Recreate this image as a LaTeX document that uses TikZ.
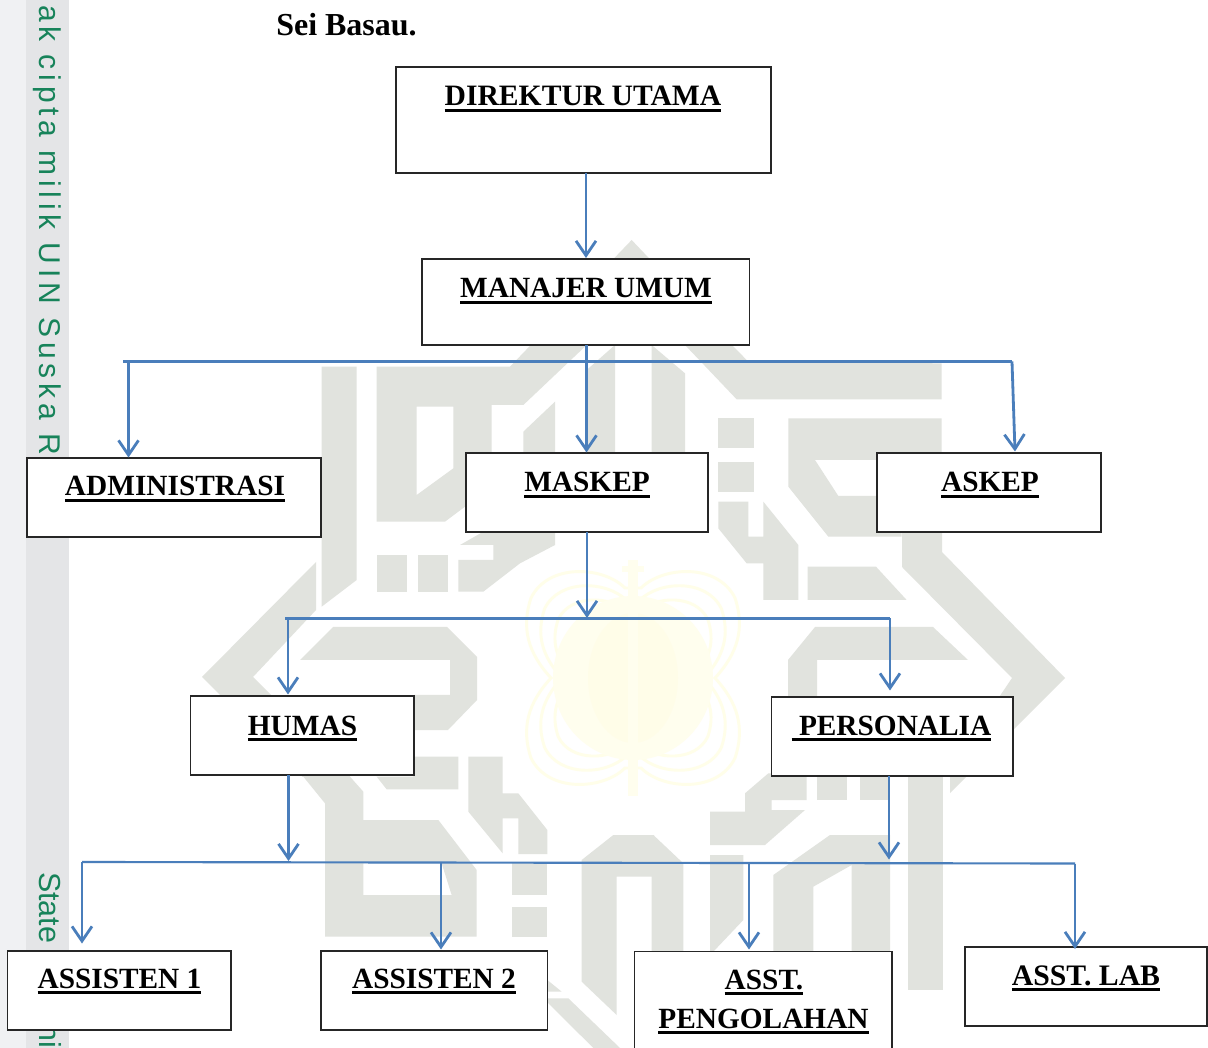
\documentclass[tikz,border=0pt]{standalone}
\usepackage{fontspec}
\setmainfont{Liberation Serif}
\newfontfamily\wmsans[LetterSpace=16]{Liberation Sans}
\newfontfamily\wmplain{Liberation Sans}
\usetikzlibrary{arrows.meta}
\definecolor{wmgray}{HTML}{E1E3DE}
\definecolor{stripa}{HTML}{F0F1F3}
\definecolor{stripb}{HTML}{E4E5E7}
\definecolor{wmgreen}{HTML}{17835A}
\definecolor{conn}{HTML}{4A7EBB}
\definecolor{wingline}{HTML}{FFFEE9}
\definecolor{wingfill}{HTML}{FFFEEE}
\definecolor{wingcore}{HTML}{FFFDE8}
\newcommand{\ulb}[1]{\setbox0=\hbox{#1}\rlap{\rule[-4.3pt]{\wd0}{1.8pt}}\box0}
\newcommand{\boxnode}[5]{\pgfmathsetmacro\bw{(#4-#2)*0.75}\pgfmathsetmacro\bh{(#5-#3)*0.75}\node[orgbox,minimum width=\bw pt,minimum height=\bh pt] (#1) at ({(#2+#4)/2},{(#3+#5)/2}) {};}
\newcommand{\wing}{(8,-90) .. controls (30,-112) and (85,-115) .. (102,-80) .. controls (112,-50) and (105,-25) .. (82,0) .. controls (105,25) and (112,50) .. (102,80) .. controls (85,115) and (30,112) .. (8,90) -- (-8,90) .. controls (-30,112) and (-85,115) .. (-102,80) .. controls (-112,50) and (-105,25) .. (-82,0) .. controls (-105,-25) and (-112,-50) .. (-102,-80) .. controls (-85,-115) and (-30,-112) .. (-8,-90) -- cycle}
\tikzset{
  wm/.style={fill=wmgray,draw=none,even odd rule},
  orgbox/.style={draw=black!85,fill=white,line width=0.95pt,inner sep=0pt,outer sep=0pt,rectangle},
  lbl/.style={font=\fontsize{22pt}{26pt}\bfseries,text=black,inner sep=0pt,anchor=base},
  link/.style={draw=conn,line width=1.6pt},
  arrowlink/.style={draw=conn,line width=2.1pt,-{Straight Barb[length=11pt,width=15pt,line width=2.1pt]}},
  striptext/.style={text=wmgreen,inner sep=0pt,rotate=-90}
}
\begin{document}
\begin{tikzpicture}[x=0.75pt,y=-0.75pt]
\useasboundingbox (0,0) rectangle (1208,1048);
\clip (0,0) rectangle (1208,1048);
\fill[white] (0,0) rectangle (1208,1048);
% watermark: upper left
\begin{scope}[shift={(190,230)},x=0.25pt,y=-0.25pt]
  \fill[wm] (395,410) -- (500,410) -- (500,1050) -- (395,1130) -- cycle;
  \fill[wm] (560,410) -- (960,410) -- (1325,30) -- (1420,130) -- (1190,345) -- (1000,525) -- (905,525) -- (905,770) -- (765,875) -- (560,875) -- cycle
            (680,530) -- (790,530) -- (790,715) -- (680,795) -- cycle;
  \fill[wm] (1275,345) -- (1275,670) -- (1190,670) -- (1190,420) -- cycle;
  \fill[wm] (1000,605) -- (1095,515) -- (1095,670) -- (1000,670) -- cycle;
  \fill[wm] (880,905) -- (1095,905) -- (1095,945) -- (990,1000) -- (880,1085) -- (805,1085) -- (805,990) -- (910,990) -- (910,945) -- (810,945) -- cycle;
  \fill[wm] (560,975) rectangle (650,1085);
  \fill[wm] (685,975) rectangle (775,1085);
\end{scope}
% watermark: upper right
\begin{scope}[shift={(630,230)},x=0.25pt,y=-0.25pt]
  \fill[wm] (0,35) -- (355,395) -- (935,400) -- (935,508) -- (320,508) -- (165,345) -- (0,200) -- cycle;
  \fill[wm] (65,345) -- (165,430) -- (165,670) -- (65,670) -- cycle;
  \fill[wm] (265,565) rectangle (372,655);
  \fill[wm] (265,695) rectangle (372,785);
  \fill[wm] (265,815) -- (355,815) -- (355,920) -- (400,920) -- (400,815) -- (505,945) -- (505,1110) -- (400,1110) -- (400,1000) -- (350,1000) -- (265,895) -- cycle;
  \fill[wm] (475,565) -- (935,565) -- (935,690) -- (555,690) -- (625,798) -- (815,798) -- (815,920) -- (595,920) -- (475,770) -- cycle;
  \fill[wm] (533,1010) -- (738,1010) -- (830,1110) -- (533,1110) -- cycle;
\end{scope}
% watermark: left and right arms (image pixels)
\fill[wm] (316,562) -- (316,610) -- (253,677) -- (303,727) -- (303,777) -- (202,677) -- cycle;
\fill[wm] (300,660) -- (333,627) -- (447,627) -- (477,657) -- (477,700) -- (448,730) -- (414,730) -- (414,695) -- (450,695) -- (450,660) -- cycle;
\fill[wm] (902,530) -- (942,530) -- (942,552) -- (1065,678) -- (950,793) -- (950,770) -- (1012,678) -- (902,567) -- cycle;
\fill[wm] (788,697) -- (788,660) -- (815,627) -- (933,627) -- (968,660) -- (817,660) -- (817,697) -- cycle;
% watermark: lower left
\begin{scope}[shift={(190,630)},x=0.25pt,y=-0.25pt]
  \fill[wm] (250,300) -- (340,440) -- (405,520) -- (405,920) -- (860,920) -- (860,720) -- (745,570) -- (520,570) -- (520,485) -- (480,440) -- (400,300) -- cycle
            (520,700) -- (755,700) -- (785,795) -- (520,795) -- cycle;
  \fill[wm] (670,380) -- (805,380) -- (805,478) -- (590,478) -- (560,440) -- (670,440) -- cycle;
  \fill[wm] (835,380) -- (938,380) -- (938,490) -- (985,490) -- (1072,600) -- (1072,672) -- (985,672) -- (985,565) -- (938,565) -- (938,670) -- (835,545) -- cycle;
  \fill[wm] (965,700) rectangle (1072,795);
  \fill[wm] (965,830) rectangle (1072,920);
  \fill[wm] (1175,1055) -- (1175,690) -- (1270,615) -- (1392,615) -- (1392,740) -- (1280,740) -- (1280,1155) -- cycle;
  \fill[wm] (1072,1050) -- (1115,1085) -- (1072,1085) -- cycle;
  \fill[wm] (1060,1105) -- (1135,1105) -- (1290,1254) -- (1210,1254) -- cycle;
\end{scope}
% watermark: lower right
\begin{scope}[shift={(630,630)},x=0.25pt,y=-0.25pt]
  \fill[wm] (0,615) -- (70,615) -- (160,700) -- (160,965) -- (65,965) -- (65,725) -- (0,725) -- cycle;
  \fill[wm] (430,965) -- (430,735) -- (600,615) -- (780,615) -- (780,965) -- (665,965) -- (665,705) -- (550,770) -- (550,965) -- cycle;
  \fill[wm] (240,545) -- (345,545) -- (345,490) -- (415,430) -- (530,430) -- (530,510) -- (425,510) -- (425,540) -- (525,540) -- (405,645) -- (240,645) -- cycle;
  \fill[wm] (560,430) rectangle (650,510);
  \fill[wm] (690,430) rectangle (778,510);
  \fill[wm] (240,675) -- (340,675) -- (340,870) -- (250,965) -- (240,965) -- cycle;
  \fill[wm] (835,430) -- (940,430) -- (940,1080) -- (835,1080) -- cycle;
\end{scope}
% watermark: central butterfly
\begin{scope}[shift={(633,678)},line width=2.2pt]
  \draw[wingline] \wing;
  \begin{scope}[x=0.65pt,y=-0.65pt]\draw[wingline] \wing;\end{scope}
  \begin{scope}[x=0.55pt,y=-0.55pt]\draw[wingline] \wing;\end{scope}
  \fill[wingfill] (0,0) ellipse [x radius=80,y radius=82];
  \fill[wingcore] (0,0) ellipse [x radius=45,y radius=65];
  \fill[wingfill] (-5,-118) rectangle (5,118);
  \fill[wingfill] (-11,-112) rectangle (11,-106);
\end{scope}
% left strip
\fill[stripa] (0,0) rectangle (26,1048);
\fill[stripb] (26,0) rectangle (68.5,1048);
\node[striptext,anchor=base east,font=\wmsans\fontsize{22.5pt}{26pt}\selectfont] (hakcipta) at (40,455) {ak cipta milik UIN Suska R};
\node[striptext,anchor=base west,font=\wmplain\fontsize{22.8pt}{26pt}\selectfont] (statetext) at (40,872) {State};
\node[striptext,anchor=base west,font=\wmplain\fontsize{22.8pt}{26pt}\selectfont] (nitext) at (40,1024) {ni};
% boxes
\boxnode{dir}{396}{67}{771}{173}
\boxnode{man}{422}{259}{749.5}{345}
\boxnode{adm}{27}{458}{321}{537}
\boxnode{mas}{466}{453}{708}{532}
\boxnode{ask}{877}{453}{1101}{532}
\boxnode{hum}{190.5}{696}{414}{775}
\boxnode{per}{771.5}{697}{1013}{776}
\boxnode{asa}{7.5}{951}{231}{1030}
\boxnode{asb}{321}{951}{547.5}{1030}
\boxnode{asp}{634.5}{951.5}{892}{1070}
\boxnode{asl}{965}{947}{1207}{1026}
% labels
\node[lbl,font=\fontsize{24pt}{26pt}\bfseries] (title) at (346.5,36) {Sei Basau.};
\node[lbl,font=\fontsize{22.2pt}{26pt}\bfseries] (tdir) at (583,106) {\ulb{DIREKTUR UTAMA}};
\node[lbl] (tman) at (586,298) {\ulb{MANAJER UMUM}};
\node[lbl] (tadm) at (175,496) {\ulb{ADMINISTRASI}};
\node[lbl] (tmas) at (587,492) {\ulb{MASKEP}};
\node[lbl] (task) at (990,492) {\ulb{ASKEP}};
\node[lbl] (thum) at (302.5,735) {\ulb{HUMAS}};
\node[lbl] (tper) at (891.5,735) {\ulb{\ PERSONALIA}};
\node[lbl] (tasa) at (119.5,988) {\ulb{ASSISTEN 1}};
\node[lbl] (tasb) at (434,988) {\ulb{ASSISTEN 2}};
\node[lbl] (tast) at (764,989) {\ulb{ASST.}};
\node[lbl] (tpen) at (763.5,1028) {\ulb{PENGOLAHAN}};
\node[lbl,font=\fontsize{22.3pt}{26pt}\bfseries] (tasl) at (1086,985) {\ulb{ASST. LAB}};
% free ends of connectors
\coordinate (busaL) at (123,361.5);
\coordinate (busaA) at (128.5,361.5);
\coordinate (busaR) at (1012,361.5);
\coordinate (askTip) at (1015,451.5);
\coordinate (busbL) at (285,618.5);
\coordinate (busbM) at (587,618);
\coordinate (busbH) at (288,619);
\coordinate (busbR) at (890,618.5);
\coordinate (perTip) at (890,690.5);
\coordinate (humTip) at (288,694.5);
\coordinate (buscL) at (82,862);
\coordinate (buscH) at (288.5,861);
\coordinate (buscP) at (889,859.5);
\coordinate (buscB) at (441,862.5);
\coordinate (buscO) at (749,863);
\coordinate (buscR) at (1075,863.5);
\coordinate (asaTip) at (82,943.5);
\coordinate (asbTip) at (441,949.5);
\coordinate (aspTip) at (749,949.5);
\coordinate (aslTip) at (1075,949);
\coordinate (mantip) at (586,258);
\coordinate (admTip) at (128.5,457.5);
\coordinate (masTip) at (586.5,452.5);
% connectors
\draw[arrowlink] (dir.south -| mantip) -- (mantip);
\draw[link] (busaL) -- (busaR);
\draw[arrowlink] (busaA) -- (admTip);
\draw[arrowlink] (man.south -| masTip) -- (masTip);
\draw[arrowlink] (busaR) -- (askTip);
\draw[arrowlink] (mas.south -| busbM) -- (busbM);
\draw[link] (busbL) -- (busbR);
\draw[arrowlink] (busbH) -- (humTip);
\draw[arrowlink] (busbR) -- (perTip);
\draw[arrowlink] (hum.south -| buscH) -- (buscH);
\draw[arrowlink] (per.south -| buscP) -- (buscP);
\draw[link] (buscL) -- (buscR);
\draw[arrowlink] (buscL) -- (asaTip);
\draw[arrowlink] (buscB) -- (asbTip);
\draw[arrowlink] (buscO) -- (aspTip);
\draw[arrowlink] (buscR) -- (aslTip);
\end{tikzpicture}
\end{document}
